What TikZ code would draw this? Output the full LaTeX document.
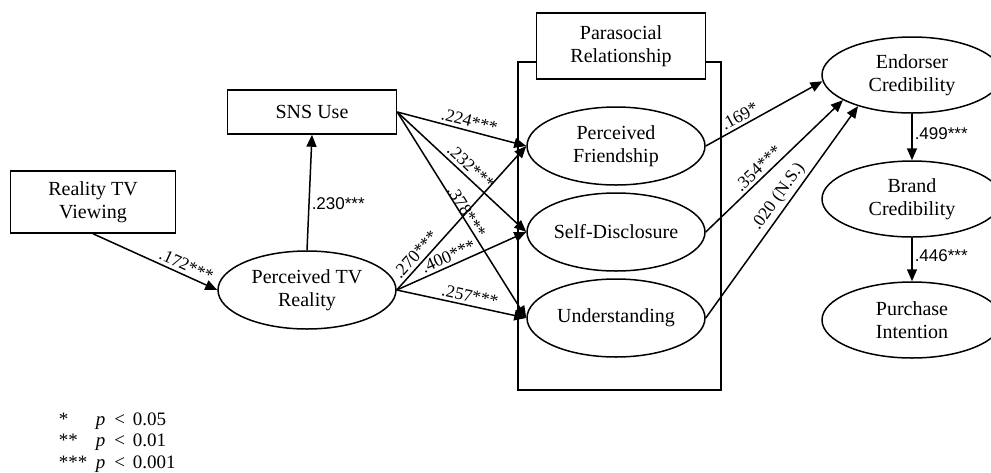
\documentclass[tikz,border=0pt]{standalone}
\usepackage{fontspec}
\setmainfont{Liberation Serif}
\newfontfamily\lblsans{Liberation Sans}
\usetikzlibrary{shapes.geometric, arrows.meta}

\begin{document}
\begin{tikzpicture}[x=0.5pt, y=-0.5pt, line width=0.75pt, >={Triangle[length=6pt, width=5pt]}]
                \tikzset{
                    obs/.style={draw, rectangle, align=center, inner sep=0pt, font=\fontsize{10}{11.5}\selectfont},
                    latent/.style={draw, ellipse, align=center, inner sep=0pt, minimum width=89pt, minimum height=39pt, font=\fontsize{10}{11.5}\selectfont},
                    coef/.style={font=\fontsize{8.8}{10}\selectfont, inner sep=1.5pt},
                    coefsans/.style={font=\lblsans\fontsize{8.5}{10}\selectfont, inner sep=1pt}
                }
                \newcommand{\sigrow}[2]{\makebox[18.5pt][l]{#1}\textit{p}\hspace{4.5pt}<\hspace{4pt}#2}
                \useasboundingbox (0,0) rectangle (991,472);

                % grouping frame behind the three parasocial factors
                \draw (518,62) rectangle (721,390);

                \node[obs, minimum width=82.5pt, minimum height=31pt] (rtv) at (93,202) {Reality TV\\Viewing};
                \node[obs, minimum width=84.5pt, minimum height=22pt] (sns) at (312,112) {SNS Use};
                \node[latent] (ptr) at (307,290) {Perceived TV\\Reality};

                \node[obs, fill=white, minimum width=84.5pt, minimum height=33pt] (psr) at (621,46) {Parasocial\\Relationship};
                \node[latent] (pf) at (616,146) {Perceived\\Friendship};
                \node[latent] (sd) at (616,232) {Self-Disclosure};
                \node[latent] (und) at (616,318) {Understanding};

                \node[latent, minimum width=90pt, minimum height=38pt] (ec) at (912,75) {Endorser\\Credibility};
                \node[latent, minimum width=90pt, minimum height=38pt] (bc) at (912,199) {Brand\\Credibility};
                \node[latent, minimum width=90pt, minimum height=38pt] (pi) at (912,320) {Purchase\\Intention};

                \path[->]
                    (rtv.south) edge node[coef, sloped, above, pos=.72] {.172***} (ptr.west)
                    (ptr.north) edge node[coefsans, right, pos=.4] {.230***} (sns.south)
                    (sns.east) edge node[coef, sloped, above, pos=.54] {.224***} (pf.west)
                    (sns.east) edge node[coef, sloped, above, pos=.52] {.232***} (sd.west)
                    (sns.east) edge node[coef, sloped, above, pos=.5, yshift=-2pt] {.378***} (und.west)
                    (ptr.east) edge node[coef, sloped, above, pos=.2] {.270***} (pf.west)
                    (ptr.east) edge node[coef, sloped, above, pos=.43] {.400***} (sd.west)
                    (ptr.east) edge node[coef, sloped, above, pos=.55] {.257***} (und.west)
                    (pf.east) edge node[coef, sloped, above, pos=.33] {.169*} (ec.184)
                    (sd.east) edge node[coef, sloped, above, pos=.43] {.354***} (ec.200)
                    (und.east) edge node[coef, sloped, above, pos=.54] {.020 (N.S.)} (ec.210)
                    (ec.south) edge node[coefsans, right, pos=.43] {.499***} (bc.north)
                    (bc.south) edge node[coefsans, right, pos=.42] {.446***} (pi.north);

                \node[anchor=north west, inner sep=0pt, font=\fontsize{9.5}{10.75}\selectfont, align=left] (sig) at (58,412)
                    {\sigrow{*}{0.05}\\ \sigrow{**}{0.01}\\ \sigrow{***}{0.001}};

            \end{tikzpicture}
\end{document}
